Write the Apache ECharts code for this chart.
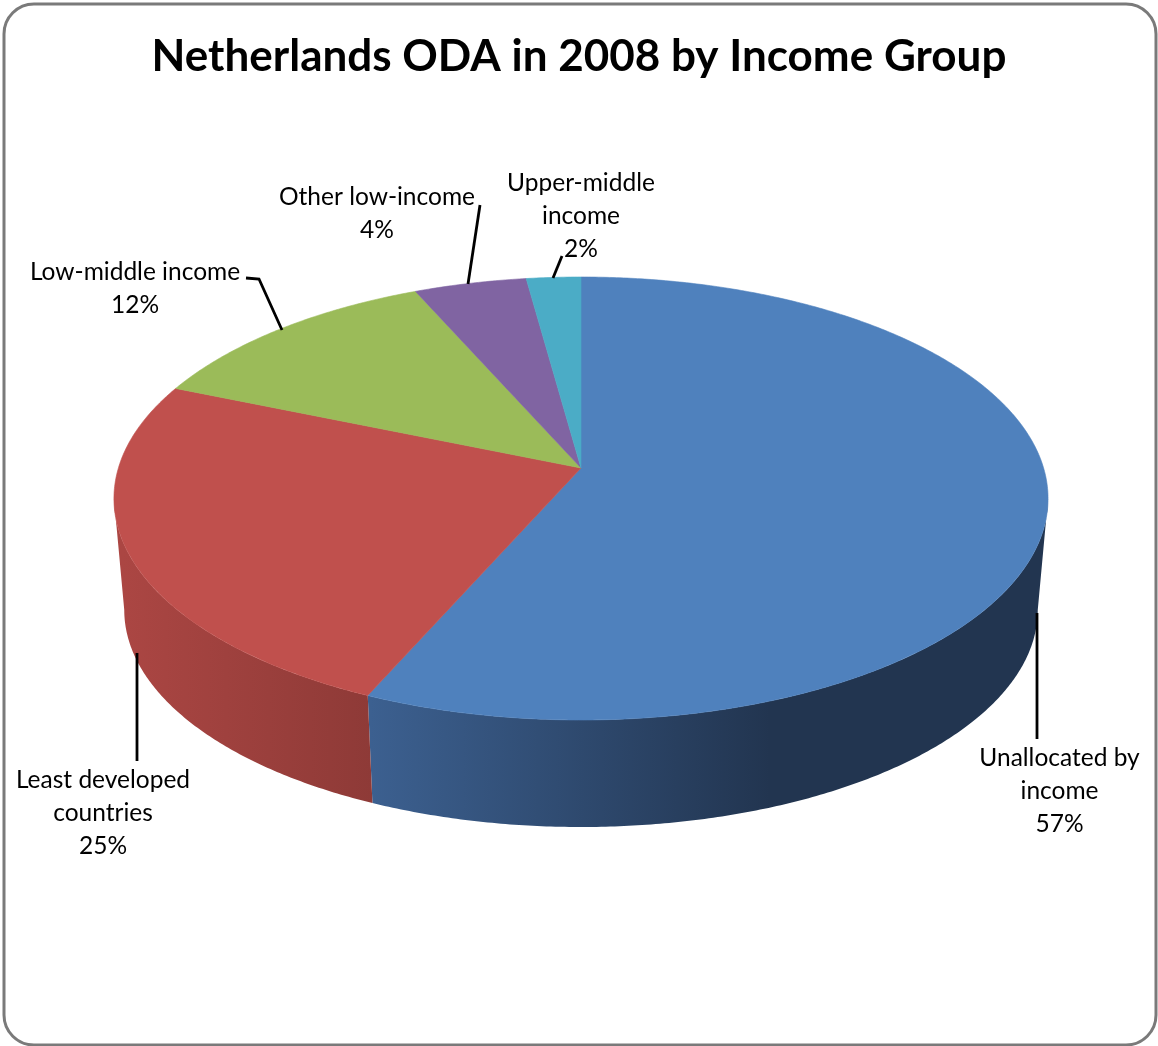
<!DOCTYPE html>
<html><head><meta charset="utf-8">
<style>html,body{margin:0;padding:0;background:#fff}#c{width:1158px;height:1046px}</style>
<script src="https://cdn.jsdelivr.net/npm/echarts@6/dist/echarts.min.js"></script>
</head><body><div id="c"></div>
<script>
const chartTitle = 'Netherlands ODA in 2008 by Income Group';
const categories = ['Unallocated by\nincome', 'Least developed\ncountries', 'Low-middle income', 'Other low-income', 'Upper-middle\nincome'];
const values = [56.6, 24.7, 12.1, 4.45, 2.15];

const FONT = 'Lato, Carlito, "Open Sans", sans-serif';
const topColors = ['#4f81bd', '#c0504d', '#9bbb59', '#8064a2', '#4bacc6'];
const wallFills = [
  {type:'linear',global:true,x:370,y:0,x2:770,y2:0,colorStops:[{offset:0,color:'#3c6090'},{offset:1,color:'#223550'}]},
  {type:'linear',global:true,x:123,y:0,x2:372,y2:0,colorStops:[{offset:0,color:'#ab4643'},{offset:1,color:'#8e3a37'}]},
  '#7d9748','#66507f','#3a8aa0'
];
const labelBoxes = [
  {cx:1059.5, y:758, line:[[1037,613],[1037,739]]},
  {cx:103,    y:780, line:[[137,653],[137,761]]},
  {cx:135,    y:272, line:[[246,278],[259,279],[282,330]]},
  {cx:377,    y:197, line:[[480,205],[468,284]]},
  {cx:581,    y:183, line:[[562,256],[553,278]]}
];
const LINE_H = 33;
const KP = -0.1377, CX = 581;
const TOP = {y0:468, A:217.3, B:462.6};
const BOT = {y0:580, A:213,   B:452.4};
const total = values.reduce((a,b)=>a+b,0);
// Angles where the rim reaches its left and right extremes: only the front between them shows a wall.
const FRONT_START = Math.acos(KP), FRONT_END = 2*Math.PI - FRONT_START;

function project(th, g){
  const v = Math.sin(th), u = -Math.cos(th), d = 1 + KP*u;
  return [CX + g.B*v/d, g.y0 + g.A*u/d];
}
function range(i){
  let s = 0; for(let k=0;k<i;k++) s += values[k];
  return [s/total*2*Math.PI, (s+values[i])/total*2*Math.PI];
}
function arc(a,b,g){
  const n = Math.max(2, Math.ceil((b-a)/(Math.PI/360))), pts=[];
  for(let i=0;i<=n;i++) pts.push(project(a+(b-a)*i/n, g));
  return pts;
}
function renderWall(params){
  const r = range(params.dataIndex);
  const a = Math.max(r[0], FRONT_START), b = Math.min(r[1], FRONT_END);
  if(a >= b) return null;
  const fill = wallFills[params.dataIndex];
  return {type:'polygon', shape:{points: arc(a,b,TOP).concat(arc(a,b,BOT).reverse())}, style:{fill:fill, stroke:null}};
}
function renderTop(params){
  const [a,b] = range(params.dataIndex);
  const c = topColors[params.dataIndex];
  return {type:'polygon', shape:{points: [[CX,TOP.y0]].concat(arc(a,b,TOP))}, style:{fill:c, stroke:c, lineWidth:0.6}};
}
function renderLabel(params, api){
  const i = params.dataIndex, box = labelBoxes[i];
  const lines = categories[i].split('\n').concat([Math.round(api.value(0))+'%']);
  const kids = [{type:'polyline', shape:{points:box.line}, style:{fill:null, stroke:'#000', lineWidth:2.8}}];
  lines.forEach((t,k)=>kids.push({type:'text', style:{text:t, x:box.cx, y:box.y+k*LINE_H, textAlign:'center', textVerticalAlign:'middle', font:'24.5px '+FONT, fill:'#000'}}));
  return {type:'group', children:kids};
}
const rows = values.map(v=>[v]);
const chart = echarts.init(document.getElementById('c'), null, {renderer:'canvas'});
chart.setOption({
  animation:false,
  backgroundColor:'#fff',
  title:{text:chartTitle, left:'center', top:30, textStyle:{fontFamily:FONT, fontWeight:'bold', fontSize:44, color:'#000'}},
  graphic:[{type:'rect', z:0, silent:true, shape:{x:4,y:4,width:1152,height:1041,r:30}, style:{fill:'#fff', stroke:'#7a7a7a', lineWidth:3}}],
  series:[
    {type:'custom', coordinateSystem:'none', silent:true, z:2, data:rows, renderItem:renderWall},
    {type:'custom', coordinateSystem:'none', silent:true, z:3, data:rows, renderItem:renderTop},
    {type:'custom', coordinateSystem:'none', silent:true, z:4, data:rows, renderItem:renderLabel}
  ]
});
</script></body></html>
